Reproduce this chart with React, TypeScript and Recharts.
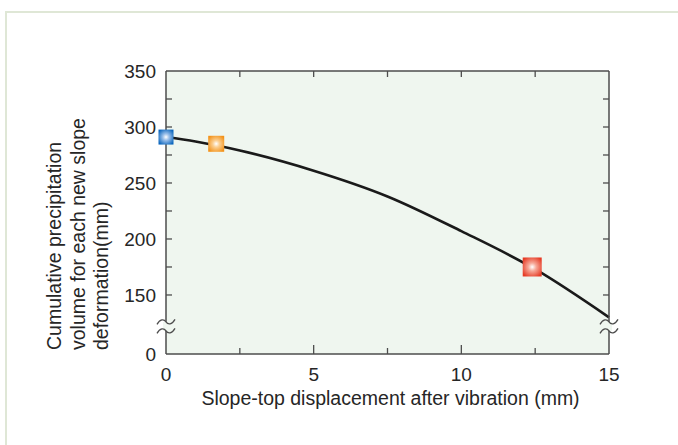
import React from 'react';
import {
  ComposedChart,
  Line,
  Scatter,
  XAxis,
  YAxis,
  CartesianGrid,
  ReferenceDot,
} from 'recharts';

// curve
const curveX = [0, 1, 2.5, 5, 7.5, 10, 12.5, 15];
const curveY = [291, 287, 279, 261, 238, 207, 173, 130];

// highlighted test points
const markerX = [0, 1.7, 12.4];
const markerY = [291, 285, 175];

// axis ticks (the y-axis is broken between 0 and 150)
const Y_BREAK = 97.3;
const yTicks = [Y_BREAK, 150, 175, 200, 225, 250, 275, 300, 325, 350];
const xTicks = [0, 2.5, 5, 7.5, 10, 12.5, 15];
const xLabelled = [0, 5, 10, 15];

const FONT = "'Liberation Sans', Arial, Helvetica, sans-serif";
const AXIS = '#4d4d4d';
const TEXT = '#262626';
const PLOT_BG = '#eff6ef';

const curveData = curveX.map((x, i) => ({ x, y: curveY[i] }));
const markers = markerX.map((x, i) => ({ x, y: markerY[i] }));

const LeftTick = (p: any) => {
  const { x, y, payload } = p;
  const v = payload.value;
  const isBreak = v === Y_BREAK;
  const labelled = isBreak || v % 50 === 0;
  return (
    <g>
      {!isBreak && v !== 350 && (
        <line x1={x + 10} x2={x + 16} y1={y} y2={y} stroke={AXIS} strokeWidth={1.3} />
      )}
      {labelled && (
        <text x={x} y={y} dy="0.36em" textAnchor="end" fontSize={19} fill={TEXT} fontFamily={FONT}>
          {isBreak ? '0' : v}
        </text>
      )}
    </g>
  );
};

const RightTick = (p: any) => {
  const { x, y, payload } = p;
  const v = payload.value;
  if (v === Y_BREAK || v === 350) return <g />;
  return <line x1={x} x2={x - 6} y1={y} y2={y} stroke={AXIS} strokeWidth={1.3} />;
};

const BottomTick = (p: any) => {
  const { x, y, payload } = p;
  const v = payload.value;
  const major = v % 5 === 0;
  const base = y - 14;
  return (
    <g>
      {v !== 0 && v !== 15 && (
        <line x1={x} x2={x} y1={base} y2={base - (major ? 9 : 6)} stroke={AXIS} strokeWidth={1.3} />
      )}
      {xLabelled.includes(v) && (
        <text x={x} y={y} dy="0.71em" textAnchor="middle" fontSize={19} fill={TEXT} fontFamily={FONT}>
          {v}
        </text>
      )}
    </g>
  );
};

const TopTick = (p: any) => {
  const { x, y, payload } = p;
  const v = payload.value;
  if (v === 0 || v === 15) return <g />;
  return <line x1={x} x2={x} y1={y} y2={y + 6} stroke={AXIS} strokeWidth={1.3} />;
};

const wave = (cx: number, y: number) =>
  `M${cx - 9},${y + 2.5} C${cx - 6},${y - 3} ${cx - 2},${y - 3} ${cx},${y} S${cx + 6},${y + 3} ${cx + 9},${y - 2.5}`;

const BreakMark = (p: any) => {
  const { cx, cy } = p;
  return (
    <g>
      <rect x={cx - 3} y={cy - 4.5} width={6} height={9} fill={PLOT_BG} />
      <path d={wave(cx, cy - 4.5)} fill="none" stroke={AXIS} strokeWidth={1.3} />
      <path d={wave(cx, cy + 4.5)} fill="none" stroke={AXIS} strokeWidth={1.3} />
    </g>
  );
};

const squareShape = (grad: string, size: number) => (p: any) => {
  const { cx, cy } = p;
  return <rect x={cx - size / 2} y={cy - size / 2} width={size} height={size} fill={`url(#${grad})`} />;
};

const YTitle = (p: any) => {
  const vb = p.viewBox || { x: 106, y: 71, width: 60, height: 283 };
  const sy = vb.y + vb.height - 4;
  const lines = ['Cumulative precipitation', 'volume for each new slope', 'deformation(mm)'];
  const bases = [vb.x - 45, vb.x - 21, vb.x + 2];
  return (
    <g>
      {lines.map((t, i) => (
        <text
          key={t}
          x={bases[i]}
          y={sy}
          transform={`rotate(-90, ${bases[i]}, ${sy})`}
          textAnchor="start"
          fontSize={19.5}
          fill={TEXT}
          fontFamily={FONT}
        >
          {t}
        </text>
      ))}
    </g>
  );
};

const XTitle = (p: any) => {
  const vb = p.viewBox || { x: 166, y: 354, width: 443, height: 60 };
  return (
    <text
      x={vb.x + vb.width / 2 + 3}
      y={vb.y + 51}
      textAnchor="middle"
      fontSize={19.5}
      fill={TEXT}
      fontFamily={FONT}
    >
      Slope-top displacement after vibration (mm)
    </text>
  );
};

export default function App() {
  return (
    <div style={{ position: 'absolute', left: 0, top: 0, width: 678, height: 445, background: '#fff' }}>
      <div
        style={{
          position: 'absolute',
          left: 5,
          top: 11,
          width: 673,
          height: 434,
          borderTop: '2px solid #dfe7d6',
          borderLeft: '2px solid #dfe7d6',
          boxSizing: 'border-box',
        }}
      />
      <div style={{ position: 'absolute', left: 0, top: 0 }}>
        <ComposedChart width={678} height={445} margin={{ top: 70, right: 68, bottom: 31, left: 106 }}>
          <defs>
            <radialGradient id="gBlue" cx="50%" cy="50%" r="60%">
              <stop offset="0%" stopColor="#ffffff" />
              <stop offset="35%" stopColor="#9cc0ea" />
              <stop offset="100%" stopColor="#0b66bd" />
            </radialGradient>
            <radialGradient id="gOrange" cx="50%" cy="50%" r="60%">
              <stop offset="0%" stopColor="#ffffff" />
              <stop offset="35%" stopColor="#fbcf92" />
              <stop offset="100%" stopColor="#f39219" />
            </radialGradient>
            <radialGradient id="gRed" cx="50%" cy="50%" r="60%">
              <stop offset="0%" stopColor="#ffffff" />
              <stop offset="35%" stopColor="#f6a898" />
              <stop offset="100%" stopColor="#e63b25" />
            </radialGradient>
          </defs>
          <CartesianGrid fill={PLOT_BG} horizontal={false} vertical={false} stroke="none" />
          <XAxis
            dataKey="x"
            type="number"
            domain={[0, 15]}
            ticks={xTicks}
            interval={0}
            height={60}
            tickSize={0}
            tickMargin={14}
            tickLine={false}
            axisLine={{ stroke: AXIS, strokeWidth: 1.5 }}
            tick={<BottomTick />}
            label={{ content: <XTitle /> } as any}
          />
          <XAxis
            xAxisId="t"
            dataKey="x"
            orientation="top"
            type="number"
            domain={[0, 15]}
            ticks={xTicks}
            interval={0}
            height={1}
            tickSize={0}
            tickMargin={0}
            tickLine={false}
            axisLine={{ stroke: AXIS, strokeWidth: 1.5 }}
            tick={<TopTick />}
          />
          <YAxis
            type="number"
            domain={[Y_BREAK, 350]}
            ticks={yTicks}
            interval={0}
            width={60}
            tickSize={0}
            tickMargin={10}
            tickLine={false}
            axisLine={{ stroke: AXIS, strokeWidth: 1.5 }}
            tick={<LeftTick />}
            label={{ content: <YTitle /> } as any}
          />
          <YAxis
            yAxisId="r"
            orientation="right"
            type="number"
            domain={[Y_BREAK, 350]}
            ticks={yTicks}
            interval={0}
            width={1}
            tickSize={0}
            tickMargin={0}
            tickLine={false}
            axisLine={{ stroke: AXIS, strokeWidth: 1.5 }}
            tick={<RightTick />}
          />
          {/* invisible copy so the mirrored top/right axes have a series */}
          <Line
            xAxisId="t"
            yAxisId="r"
            data={curveData}
            dataKey="y"
            stroke="none"
            strokeWidth={0}
            dot={false}
            activeDot={false}
            legendType="none"
            isAnimationActive={false}
          />
          <Line
            data={curveData}
            dataKey="y"
            type="monotone"
            stroke="#1a1a1a"
            strokeWidth={2.6}
            dot={false}
            activeDot={false}
            isAnimationActive={false}
          />
          <ReferenceDot x={0} y={122} shape={<BreakMark />} />
          <ReferenceDot x={15} y={122} shape={<BreakMark />} />
          <Scatter data={[markers[0]]} dataKey="y" shape={squareShape('gBlue', 15)} isAnimationActive={false} />
          <Scatter data={[markers[1]]} dataKey="y" shape={squareShape('gOrange', 16)} isAnimationActive={false} />
          <Scatter data={[markers[2]]} dataKey="y" shape={squareShape('gRed', 19)} isAnimationActive={false} />
        </ComposedChart>
      </div>
    </div>
  );
}
